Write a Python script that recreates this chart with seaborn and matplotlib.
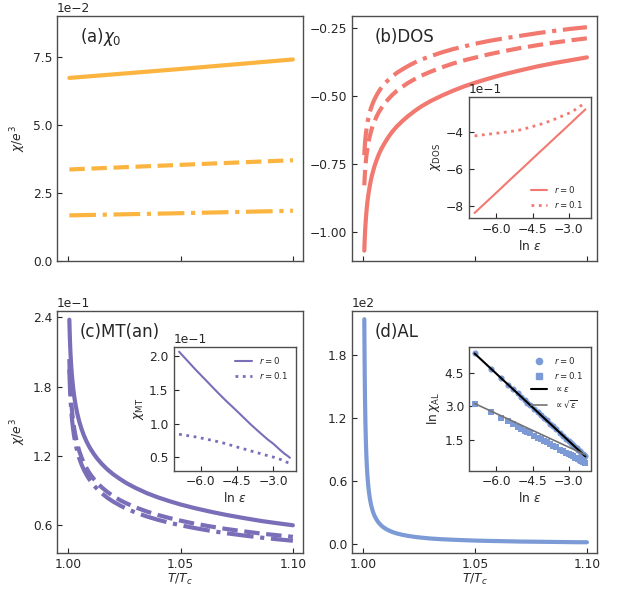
import matplotlib
matplotlib.use("Agg")
import matplotlib.pyplot as plt
from matplotlib.ticker import MultipleLocator
from matplotlib.lines import Line2D
import seaborn as sns

# ---------------- data ----------------
T = [1.0005, 1.0006, 1.0007, 1.0008, 1.0009, 1.001, 1.0012, 1.0014, 1.0016, 1.0018,
     1.002, 1.0023, 1.0026, 1.003, 1.0035, 1.004, 1.0045, 1.005, 1.006, 1.007,
     1.008, 1.009, 1.010, 1.0115, 1.013, 1.015, 1.0175, 1.02, 1.023, 1.026,
     1.03, 1.035, 1.04, 1.045, 1.05, 1.056, 1.063, 1.07, 1.078, 1.086,
     1.093, 1.10]

chi0_T = [1.0005, 1.05, 1.10]
chi0_solid = [0.0674, 0.0707, 0.0742]
chi0_dash = [0.0337, 0.0354, 0.0371]
chi0_dashdot = [0.0168, 0.0176, 0.0185]

dos_solid = [-1.067, -1.043, -1.022, -1.004, -0.988, -0.974, -0.950, -0.929, -0.911, -0.895,
             -0.881, -0.862, -0.846, -0.827, -0.806, -0.788, -0.773, -0.758, -0.734, -0.713,
             -0.695, -0.680, -0.666, -0.647, -0.630, -0.611, -0.591, -0.573, -0.554, -0.537,
             -0.518, -0.498, -0.480, -0.464, -0.450, -0.435, -0.419, -0.405, -0.390, -0.377,
             -0.367, -0.357]
dos_dash = [-0.827, -0.809, -0.793, -0.779, -0.768, -0.757, -0.738, -0.722, -0.709, -0.697,
            -0.686, -0.672, -0.659, -0.645, -0.629, -0.615, -0.603, -0.593, -0.574, -0.558,
            -0.545, -0.533, -0.522, -0.508, -0.495, -0.480, -0.465, -0.451, -0.437, -0.424,
            -0.410, -0.394, -0.380, -0.368, -0.358, -0.346, -0.334, -0.323, -0.312, -0.302,
            -0.294, -0.287]
dos_dashdot = [-0.716, -0.700, -0.686, -0.674, -0.664, -0.654, -0.638, -0.625, -0.613, -0.602,
               -0.593, -0.581, -0.570, -0.557, -0.543, -0.532, -0.521, -0.512, -0.496, -0.482,
               -0.470, -0.460, -0.450, -0.438, -0.427, -0.414, -0.401, -0.389, -0.376, -0.365,
               -0.353, -0.339, -0.327, -0.317, -0.307, -0.297, -0.287, -0.278, -0.268, -0.259,
               -0.252, -0.246]

mt_solid = [0.2380, 0.2303, 0.2240, 0.2184, 0.2136, 0.2094, 0.2022, 0.1961, 0.1909, 0.1864,
            0.1824, 0.1771, 0.1726, 0.1674, 0.1618, 0.1570, 0.1529, 0.1492, 0.1429, 0.1376,
            0.1332, 0.1293, 0.1259, 0.1214, 0.1175, 0.1130, 0.1082, 0.1042, 0.1001, 0.0964,
            0.0923, 0.0878, 0.0841, 0.0809, 0.0780, 0.0750, 0.0719, 0.0691, 0.0663, 0.0637,
            0.0618, 0.0600]
mt_dash = [0.2039, 0.1967, 0.1909, 0.1859, 0.1815, 0.1776, 0.1711, 0.1656, 0.1608, 0.1568,
           0.1532, 0.1485, 0.1445, 0.1398, 0.1349, 0.1306, 0.1270, 0.1237, 0.1183, 0.1138,
           0.1100, 0.1065, 0.1037, 0.0998, 0.0965, 0.0927, 0.0887, 0.0854, 0.0818, 0.0789,
           0.0755, 0.0719, 0.0689, 0.0663, 0.0640, 0.0615, 0.0591, 0.0569, 0.0548, 0.0528,
           0.0514, 0.0500]
mt_dashdot = [0.1950, 0.1881, 0.1824, 0.1775, 0.1733, 0.1696, 0.1632, 0.1579, 0.1533, 0.1494,
              0.1460, 0.1414, 0.1374, 0.1330, 0.1282, 0.1242, 0.1206, 0.1175, 0.1122, 0.1079,
              0.1042, 0.1009, 0.0981, 0.0944, 0.0912, 0.0876, 0.0837, 0.0805, 0.0772, 0.0743,
              0.0710, 0.0676, 0.0647, 0.0622, 0.0600, 0.0577, 0.0553, 0.0532, 0.0512, 0.0493,
              0.0479, 0.0466]

al_main = [214.0, 181.9, 158.5, 140.7, 126.7, 115.3, 98.0, 85.4, 75.8, 68.3,
           62.1, 54.9, 49.2, 43.3, 37.7, 33.5, 30.1, 27.4, 23.3, 20.3,
           18.0, 16.2, 14.8, 13.1, 11.7, 10.3, 9.0, 8.0, 7.0, 6.3,
           5.5, 4.8, 4.3, 3.9, 3.5, 3.2, 2.9, 2.6, 2.4, 2.2,
           2.0, 1.9]

# inset abscissa ln(eps)
lne = [-6.908, -6.215, -5.809, -5.298, -4.962, -4.605, -4.200, -3.912,
       -3.507, -3.219, -2.996, -2.813, -2.659, -2.526, -2.408, -2.303]
dos_in_r0 = [-0.835, -0.752, -0.703, -0.641, -0.601, -0.558, -0.509, -0.475,
             -0.426, -0.392, -0.365, -0.343, -0.324, -0.308, -0.294, -0.281]
dos_in_r01 = [-0.423, -0.412, -0.406, -0.397, -0.390, -0.377, -0.362, -0.350,
              -0.330, -0.314, -0.302, -0.290, -0.277, -0.265, -0.254, -0.245]
mt_in_r0 = [0.207, 0.180, 0.165, 0.146, 0.134, 0.122, 0.108, 0.098,
            0.085, 0.076, 0.070, 0.064, 0.059, 0.055, 0.052, 0.049]
mt_in_r01 = [0.084, 0.080, 0.077, 0.073, 0.070, 0.066, 0.062, 0.059,
             0.055, 0.052, 0.050, 0.048, 0.046, 0.044, 0.042, 0.041]

lne_al = [-6.908, -6.215, -5.809, -5.521, -5.298, -5.116, -4.962, -4.828, -4.711, -4.605,
          -4.423, -4.269, -4.135, -4.017, -3.912, -3.772, -3.650, -3.507, -3.352, -3.219,
          -3.101, -2.996, -2.900, -2.813, -2.733, -2.659, -2.590, -2.526, -2.465, -2.408,
          -2.354, -2.303]
al_in_r0 = [5.37, 4.68, 4.27, 3.98, 3.76, 3.58, 3.42, 3.29, 3.17, 3.07,
            2.88, 2.73, 2.60, 2.48, 2.37, 2.23, 2.11, 1.97, 1.81, 1.68,
            1.56, 1.46, 1.36, 1.27, 1.19, 1.12, 1.05, 0.99, 0.93, 0.87,
            0.81, 0.76]
al_in_r01 = [3.13, 2.73, 2.49, 2.33, 2.20, 2.09, 2.00, 1.92, 1.86, 1.79,
             1.69, 1.60, 1.52, 1.45, 1.39, 1.31, 1.24, 1.16, 1.07, 0.99,
             0.92, 0.86, 0.81, 0.76, 0.71, 0.67, 0.63, 0.59, 0.55, 0.52,
             0.49, 0.46]
fit_x = [-6.908, -2.303]
fit_lin = [5.37, 0.76]
fit_sqrt = [3.13, 0.83]

C_A = "#FBB440"
C_B = "#F27970"
C_C = "#7A6EB8"
C_D = "#7B9AD6"

# ---------------- style ----------------
sns.set_style("ticks", {"xtick.direction": "in", "ytick.direction": "in",
                        "axes.edgecolor": "0.3"})
plt.rcParams.update({
    "font.family": ["DejaVu Sans"],
    "xtick.labelsize": 8.8,
    "ytick.labelsize": 8.8,
    "axes.labelsize": 8.8,
    "axes.linewidth": 1.0,
})

fig = plt.figure(figsize=(6.3, 5.91), dpi=100)
W, H = 630.0, 591.0


def rect(l, t, r, b):
    return [l / W, 1 - b / H, (r - l) / W, (b - t) / H]


axA = fig.add_axes(rect(57, 16, 303, 261))
axB = fig.add_axes(rect(352, 16, 597, 261))
axC = fig.add_axes(rect(57, 311, 303, 553))
axD = fig.add_axes(rect(352, 311, 597, 553))

LW = 3.0
sns.lineplot(x=chi0_T, y=chi0_solid, ax=axA, color=C_A, lw=LW, linestyle="-")
sns.lineplot(x=chi0_T, y=chi0_dash, ax=axA, color=C_A, lw=LW, linestyle="--")
sns.lineplot(x=chi0_T, y=chi0_dashdot, ax=axA, color=C_A, lw=LW, linestyle="-.")

sns.lineplot(x=T, y=dos_solid, ax=axB, color=C_B, lw=LW, linestyle="-")
sns.lineplot(x=T, y=dos_dash, ax=axB, color=C_B, lw=LW, linestyle="--")
sns.lineplot(x=T, y=dos_dashdot, ax=axB, color=C_B, lw=LW, linestyle="-.")

sns.lineplot(x=T, y=mt_solid, ax=axC, color=C_C, lw=LW, linestyle="-")
sns.lineplot(x=T, y=mt_dash, ax=axC, color=C_C, lw=LW, linestyle="--")
sns.lineplot(x=T, y=mt_dashdot, ax=axC, color=C_C, lw=LW, linestyle="-.")

sns.lineplot(x=T, y=al_main, ax=axD, color=C_D, lw=LW, linestyle="-")

for ax in (axA, axB, axC, axD):
    ax.set_xlim(0.995, 1.1045)
    ax.xaxis.set_major_locator(MultipleLocator(0.05))
    ax.set_xlabel("")
    ax.set_ylabel("")
    ax.tick_params(direction="in", length=3.5, color="0.15")

axA.set_ylim(0, 0.0902)
axA.yaxis.set_major_locator(MultipleLocator(0.025))
axA.ticklabel_format(axis="y", style="sci", scilimits=(0, 0))
axB.set_ylim(-1.105, -0.205)
axB.yaxis.set_major_locator(MultipleLocator(0.25))
axC.set_ylim(0.036, 0.2455)
axC.yaxis.set_major_locator(MultipleLocator(0.06))
axC.ticklabel_format(axis="y", style="sci", scilimits=(0, 0))
axD.set_ylim(-8.3, 221.8)
axD.yaxis.set_major_locator(MultipleLocator(60))
axD.ticklabel_format(axis="y", style="sci", scilimits=(0, 0))

axA.tick_params(labelbottom=False)
axB.tick_params(labelbottom=False)
axA.set_ylabel(r"$\chi/e^3$")
axC.set_ylabel(r"$\chi/e^3$")
axA.yaxis.set_label_coords(-0.118, 0.5)
axC.yaxis.set_label_coords(-0.118, 0.5)
axC.set_xlabel(r"$T/T_c$", labelpad=1)
axD.set_xlabel(r"$T/T_c$", labelpad=1)

for ax, lab in ((axA, r"(a)$\chi_0$"), (axB, "(b)DOS"), (axC, "(c)MT(an)"), (axD, "(d)AL")):
    ax.text(0.093, 0.915, lab, transform=ax.transAxes, ha="left", va="center", fontsize=12)

# ---------------- insets ----------------
inB = fig.add_axes(rect(469, 97, 591, 218))
inC = fig.add_axes(rect(173.5, 347, 295.5, 470.5))
inD = fig.add_axes(rect(469, 347, 591, 470.5))

sns.lineplot(x=lne, y=dos_in_r0, ax=inB, color=C_B, lw=1.5, linestyle="-", label=r"$r=0$")
sns.lineplot(x=lne, y=dos_in_r01, ax=inB, color=C_B, lw=2.0, linestyle=":", label=r"$r=0.1$")
sns.lineplot(x=lne, y=mt_in_r0, ax=inC, color=C_C, lw=1.5, linestyle="-", label=r"$r=0$")
sns.lineplot(x=lne, y=mt_in_r01, ax=inC, color=C_C, lw=2.0, linestyle=":", label=r"$r=0.1$")

sns.scatterplot(x=lne_al, y=al_in_r0, ax=inD, color=C_D, marker="o", s=20, linewidth=0, zorder=2)
sns.scatterplot(x=lne_al, y=al_in_r01, ax=inD, color=C_D, marker="s", s=14, linewidth=0, zorder=2)
sns.lineplot(x=fit_x, y=fit_lin, ax=inD, color="black", lw=1.5, zorder=3)
sns.lineplot(x=fit_x, y=fit_sqrt, ax=inD, color="0.45", lw=1.2, zorder=3)

for ax in (inB, inC, inD):
    ax.set_xlim(-7.14, -2.07)
    ax.xaxis.set_major_locator(MultipleLocator(1.5))
    ax.set_xlabel(r"$\ln\,\varepsilon$", labelpad=2)
    ax.tick_params(direction="in", length=3.5, color="0.15")

inB.set_ylim(-0.862, -0.215)
inB.yaxis.set_major_locator(MultipleLocator(0.2))
inB.ticklabel_format(axis="y", style="sci", scilimits=(0, 0))
inB.set_ylabel(r"$\chi_{\mathrm{DOS}}$", labelpad=2)
inC.set_ylim(0.030, 0.214)
inC.yaxis.set_major_locator(MultipleLocator(0.05))
inC.ticklabel_format(axis="y", style="sci", scilimits=(0, 0))
inC.set_ylabel(r"$\chi_{\mathrm{MT}}$", labelpad=2)
inD.set_ylim(0.13, 5.66)
inD.yaxis.set_major_locator(MultipleLocator(1.5))
inD.set_ylabel(r"$\ln\chi_{\mathrm{AL}}$", labelpad=2)

leg_kw = dict(frameon=False, fontsize=6.2, handlelength=1.9, labelspacing=0.5)
inB.legend(loc="lower right", **leg_kw)
inC.legend(loc="upper right", **leg_kw)
hD = [Line2D([], [], color=C_D, marker="o", linestyle="none", markersize=4.5),
      Line2D([], [], color=C_D, marker="s", linestyle="none", markersize=4.0),
      Line2D([], [], color="black", lw=1.5),
      Line2D([], [], color="0.45", lw=1.2)]
inD.legend(hD, [r"$r=0$", r"$r=0.1$", r"$\propto\varepsilon$", r"$\propto\sqrt{\varepsilon}$"],
           loc="upper right", **leg_kw)

fig.savefig("out.png", dpi=100)
